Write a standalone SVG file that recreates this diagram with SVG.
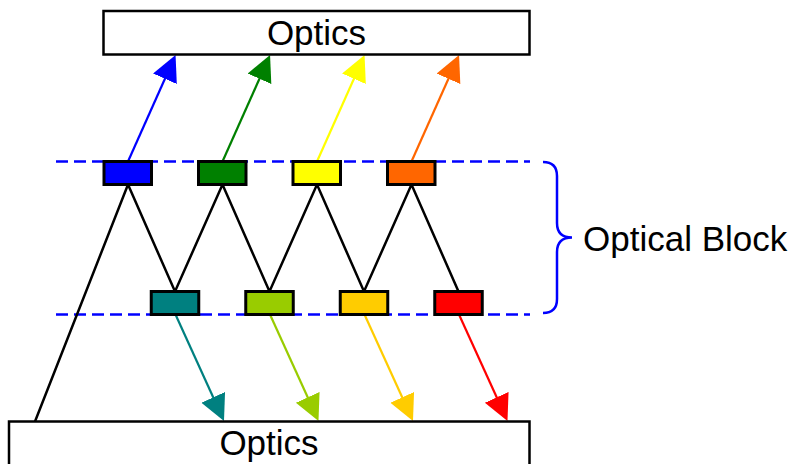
<svg xmlns="http://www.w3.org/2000/svg" width="794" height="464" viewBox="0 0 794 464">
<style>
.optics{fill:#fff;stroke:#000;stroke-width:2.5}
.lbl{font-family:"Liberation Sans",Arial,sans-serif;font-size:35px;fill:#000}
.blk{stroke:#000;stroke-width:3}
.zig{fill:none;stroke:#000;stroke-width:2.5}
.dash{fill:none;stroke:#0000ff;stroke-width:2.5;stroke-dasharray:12 6}
.brace{fill:none;stroke:#0000ff;stroke-width:2.5}
.ray{fill:none;stroke-width:2.2}
</style>
<defs>
<marker id="m-blue" markerUnits="userSpaceOnUse" markerWidth="27" markerHeight="27" refX="6" refY="13" orient="auto"><path d="M0,0 L26,13 L0,26 z" fill="#0000ff"/></marker>
<marker id="m-green" markerUnits="userSpaceOnUse" markerWidth="27" markerHeight="27" refX="6" refY="13" orient="auto"><path d="M0,0 L26,13 L0,26 z" fill="#008000"/></marker>
<marker id="m-yellow" markerUnits="userSpaceOnUse" markerWidth="27" markerHeight="27" refX="6" refY="13" orient="auto"><path d="M0,0 L26,13 L0,26 z" fill="#ffff00"/></marker>
<marker id="m-orange" markerUnits="userSpaceOnUse" markerWidth="27" markerHeight="27" refX="6" refY="13" orient="auto"><path d="M0,0 L26,13 L0,26 z" fill="#ff6600"/></marker>
<marker id="m-teal" markerUnits="userSpaceOnUse" markerWidth="27" markerHeight="27" refX="6" refY="13" orient="auto"><path d="M0,0 L26,13 L0,26 z" fill="#008080"/></marker>
<marker id="m-lime" markerUnits="userSpaceOnUse" markerWidth="27" markerHeight="27" refX="6" refY="13" orient="auto"><path d="M0,0 L26,13 L0,26 z" fill="#99cc00"/></marker>
<marker id="m-gold" markerUnits="userSpaceOnUse" markerWidth="27" markerHeight="27" refX="6" refY="13" orient="auto"><path d="M0,0 L26,13 L0,26 z" fill="#ffcc00"/></marker>
<marker id="m-red" markerUnits="userSpaceOnUse" markerWidth="27" markerHeight="27" refX="6" refY="13" orient="auto"><path d="M0,0 L26,13 L0,26 z" fill="#ff0000"/></marker>
</defs>

<g id="optical-block-bounds">
<line class="dash" x1="56" y1="161.5" x2="530" y2="161.5"/>
<line class="dash" x1="56" y1="314.5" x2="530" y2="314.5"/>
<path class="brace" d="M543,162 Q557,162 557,176 L557,223 Q557,237.5 572,237.5 Q557,237.5 557,252 L557,299 Q557,313 543,313"/>
</g>

<g id="connectors">
<path class="zig" d="M35,421.5 L128,184.5 L175,291.5 L222.5,184.5 L269.5,291.5 L317,184.5 L364,291.5 L411.5,184.5 L458.5,291.5"/>
<line class="ray" stroke="#0000ff" x1="128" y1="161.5" x2="167.4" y2="73.3" marker-end="url(#m-blue)"/>
<line class="ray" stroke="#008000" x1="222.5" y1="161.5" x2="261.9" y2="73.3" marker-end="url(#m-green)"/>
<line class="ray" stroke="#ffff00" x1="317" y1="161.5" x2="356.4" y2="73.3" marker-end="url(#m-yellow)"/>
<line class="ray" stroke="#ff6600" x1="411.5" y1="161.5" x2="450.9" y2="73.3" marker-end="url(#m-orange)"/>
<line class="ray" stroke="#008080" x1="175.5" y1="314.5" x2="215.7" y2="402.8" marker-end="url(#m-teal)"/>
<line class="ray" stroke="#99cc00" x1="270" y1="314.5" x2="310.2" y2="402.8" marker-end="url(#m-lime)"/>
<line class="ray" stroke="#ffcc00" x1="364.5" y1="314.5" x2="404.7" y2="402.8" marker-end="url(#m-gold)"/>
<line class="ray" stroke="#ff0000" x1="459" y1="314.5" x2="499.2" y2="402.8" marker-end="url(#m-red)"/>
</g>

<g id="optics-top">
<rect class="optics" x="103.5" y="11" width="426" height="43.5"/>
<text class="lbl" x="316.5" y="45.3" text-anchor="middle">Optics</text>
</g>
<g id="optics-bottom">
<rect class="optics" x="9" y="421.5" width="520.5" height="44"/>
<text class="lbl" x="269" y="455" text-anchor="middle">Optics</text>
</g>

<g id="el-blue"><rect class="blk" fill="#0000ff" x="104" y="161.5" width="47.5" height="23"/></g>
<g id="el-green"><rect class="blk" fill="#008000" x="198.5" y="161.5" width="47.5" height="23"/></g>
<g id="el-yellow"><rect class="blk" fill="#ffff00" x="293" y="161.5" width="47.5" height="23"/></g>
<g id="el-orange"><rect class="blk" fill="#ff6600" x="387.5" y="161.5" width="47.5" height="23"/></g>
<g id="el-teal"><rect class="blk" fill="#008080" x="151.25" y="291.5" width="47.5" height="23"/></g>
<g id="el-lime"><rect class="blk" fill="#99cc00" x="245.75" y="291.5" width="47.5" height="23"/></g>
<g id="el-gold"><rect class="blk" fill="#ffcc00" x="340.25" y="291.5" width="47.5" height="23"/></g>
<g id="el-red"><rect class="blk" fill="#ff0000" x="434.75" y="291.5" width="47.5" height="23"/></g>

<g id="label-optical-block">
<text class="lbl" x="583" y="251.3">Optical Block</text>
</g>
</svg>
